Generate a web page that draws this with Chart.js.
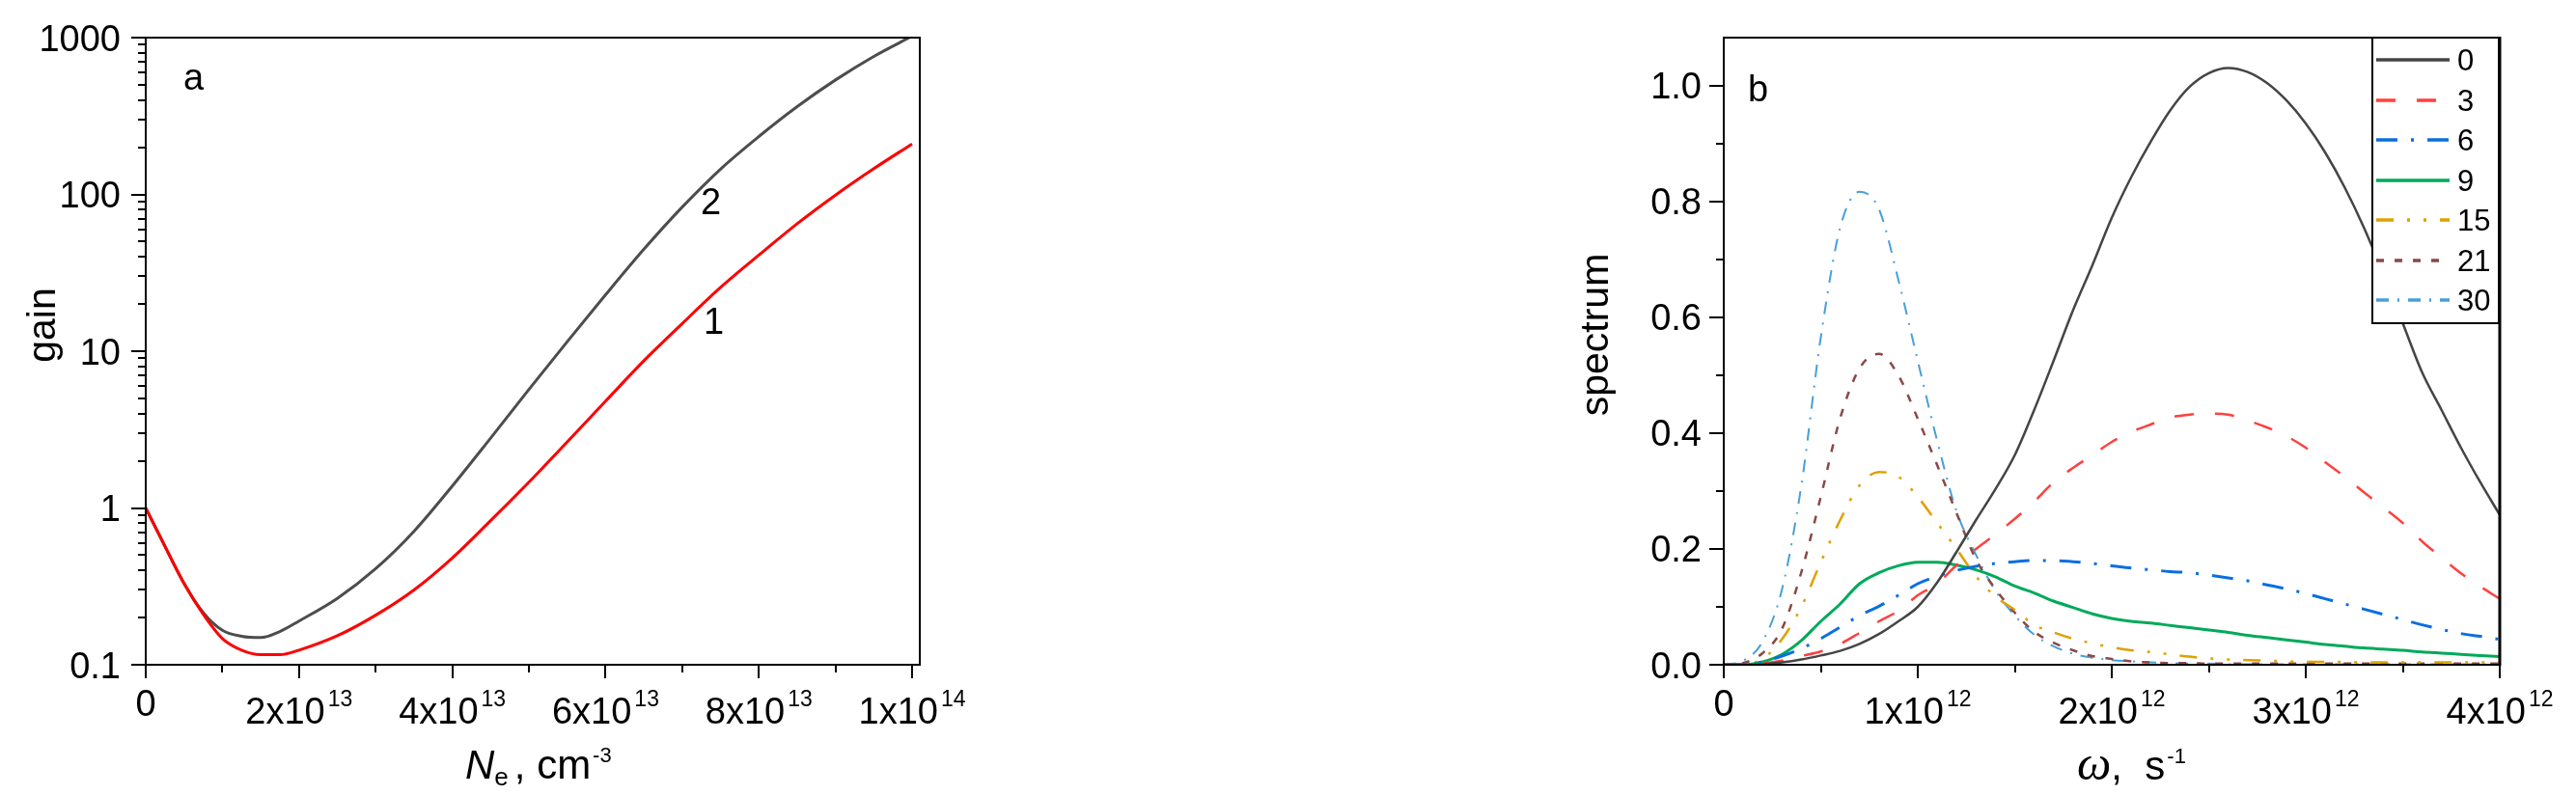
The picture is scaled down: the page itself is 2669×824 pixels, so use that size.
<!DOCTYPE html>
<html><head><meta charset="utf-8">
<script src="https://cdn.jsdelivr.net/npm/chart.js@4.4.1/dist/chart.umd.min.js"></script>
<style>
html,body{margin:0;padding:0;background:#fff;width:2669px;height:824px;overflow:hidden}
canvas{position:absolute;top:0}
#ca{left:0}
#cb{left:1560px}
</style></head><body>
<canvas id="ca" width="1200" height="824"></canvas>
<canvas id="cb" width="1109" height="824"></canvas>
<script>
// ---------- Panel a: gain vs Ne (Ne in units of 1e13 cm^-3) ----------
const neValues   = [0,0.25,0.5,0.75,1,1.25,1.5,1.75,2,2.5,3,3.5,4,4.5,5,5.5,6,6.5,7,7.5,8,8.5,9,9.5,10];
const gainCurve1 = [1.0,0.57,0.33,0.21,0.147,0.124,0.116,0.116,0.124,0.153,0.207,0.30,0.48,0.83,1.46,2.64,4.8,8.7,15,25.5,41,65,99,146,210];
const gainCurve2 = [1.0,0.57,0.33,0.215,0.166,0.152,0.149,0.163,0.19,0.265,0.41,0.71,1.38,2.79,5.7,11.5,22.9,44.7,83,145,234,363,537,759,1023];
const gainYTicks = [0.1,1,10,100,1000];
const gainYTickLabels = ['0.1','1','10','100','1000'];
const neXTicks = [0,2,4,6,8,10];
const neXTickLabels = [['0',''],['2x10','13'],['4x10','13'],['6x10','13'],['8x10','13'],['1x10','14']];

// ---------- Panel b: spectrum vs omega (omega in units of 1e12 s^-1) ----------
const omegaValues = [0,0.1,0.2,0.3,0.4,0.5,0.6,0.7,0.8,0.9,1.0,1.1,1.2,1.3,1.4,1.5,1.6,1.7,1.8,1.9,2.0,2.1,2.2,2.3,2.4,2.5,2.6,2.7,2.8,2.9,3.0,3.1,3.2,3.3,3.4,3.5,3.6,3.7,3.8,3.9,4.0];
const spec0  = [0,0,0.001,0.004,0.009,0.016,0.024,0.036,0.053,0.075,0.10,0.142,0.195,0.25,0.303,0.362,0.44,0.525,0.612,0.69,0.772,0.842,0.903,0.957,0.998,1.022,1.031,1.024,1.005,0.975,0.935,0.885,0.825,0.755,0.675,0.59,0.505,0.44,0.375,0.315,0.259];
const spec3  = [0,0,0.002,0.007,0.015,0.023,0.036,0.055,0.075,0.093,0.12,0.14,0.172,0.20,0.225,0.252,0.282,0.315,0.34,0.362,0.385,0.402,0.415,0.427,0.432,0.434,0.432,0.422,0.41,0.395,0.375,0.35,0.325,0.298,0.272,0.245,0.213,0.185,0.158,0.135,0.114];
const spec6  = [0,0,0.005,0.015,0.028,0.045,0.065,0.085,0.101,0.12,0.14,0.153,0.163,0.17,0.175,0.178,0.18,0.18,0.178,0.175,0.171,0.167,0.164,0.161,0.159,0.155,0.15,0.145,0.138,0.131,0.123,0.114,0.105,0.096,0.087,0.078,0.069,0.061,0.054,0.049,0.044];
const spec9  = [0,0,0.005,0.018,0.042,0.075,0.105,0.14,0.159,0.171,0.177,0.177,0.172,0.164,0.152,0.136,0.124,0.11,0.099,0.088,0.08,0.075,0.072,0.068,0.064,0.06,0.056,0.051,0.047,0.043,0.039,0.035,0.032,0.029,0.027,0.025,0.022,0.02,0.018,0.016,0.014];
const spec15 = [0,0.001,0.01,0.044,0.1,0.177,0.25,0.31,0.333,0.325,0.29,0.245,0.2,0.153,0.118,0.095,0.069,0.056,0.045,0.037,0.03,0.025,0.022,0.018,0.014,0.011,0.009,0.008,0.007,0.006,0.005,0.005,0.005,0.004,0.004,0.004,0.004,0.004,0.004,0.004,0.004];
const spec21 = [0,0.003,0.02,0.062,0.16,0.29,0.426,0.512,0.537,0.50,0.425,0.345,0.262,0.182,0.131,0.09,0.057,0.038,0.025,0.015,0.01,0.006,0.004,0.003,0.003,0.002,0.002,0.002,0.002,0.002,0.002,0.002,0.002,0.002,0.002,0.002,0.002,0.002,0.002,0.002,0.002];
const spec30 = [0,0.007,0.04,0.13,0.31,0.565,0.755,0.817,0.787,0.665,0.525,0.387,0.265,0.19,0.128,0.085,0.052,0.032,0.019,0.012,0.008,0.006,0.004,0.003,0.002,0.002,0.001,0.001,0.001,0.001,0.001,0.001,0.001,0.001,0.001,0.001,0.001,0.001,0.001,0.001,0.001];
const specNames = ['0','3','6','9','15','21','30'];
const specYTicks = [0,0.2,0.4,0.6,0.8,1.0];
const specYTickLabels = ['0.0','0.2','0.4','0.6','0.8','1.0'];
const omegaXTicks = [0,1,2,3,4];
const omegaXTickLabels = [['0',''],['1x10','12'],['2x10','12'],['3x10','12'],['4x10','12']];

// ---------- helpers ----------
const SANS = '"Liberation Sans", Arial, sans-serif';
const SERIF = '"Liberation Serif", "Times New Roman", serif';
const TICK_FONT = '38px ' + SANS;
const SUP_FONT = '23px ' + SANS;

function pts(xs, ys){ return xs.map((x,i)=>({x:x, y:ys[i]})); }

function drawSciLabel(ctx, base, exp, cx, plainBaseline, sciBaseline){
  ctx.fillStyle = '#000';
  ctx.textBaseline = 'alphabetic';
  ctx.textAlign = 'left';
  ctx.font = TICK_FONT;
  const wb = ctx.measureText(base).width;
  if(!exp){ ctx.fillText(base, cx - wb/2, plainBaseline); return; }
  ctx.font = SUP_FONT;
  const ws = ctx.measureText(exp).width;
  const gap = 3;
  const x0 = cx - (wb + gap + ws)/2;
  ctx.font = TICK_FONT; ctx.fillText(base, x0, sciBaseline);
  ctx.font = SUP_FONT;  ctx.fillText(exp, x0 + wb + gap, sciBaseline - 18);
}

function drawPieces(ctx, pieces, x, baseline){
  ctx.textBaseline = 'alphabetic'; ctx.textAlign = 'left'; ctx.fillStyle = '#000';
  let cx = x;
  pieces.forEach(p=>{ ctx.font = p.font; ctx.fillText(p.t, cx, baseline + (p.dy||0)); cx += ctx.measureText(p.t).width + (p.after||0); });
}

function drawAxes(chart, o){
  const {ctx, chartArea:a, scales:{x, y}} = chart;
  ctx.save();
  ctx.strokeStyle = '#000'; ctx.lineWidth = 2;
  ctx.beginPath();
  o.xMajor.forEach(v=>{ const p = Math.round(x.getPixelForValue(v)); ctx.moveTo(p, a.bottom); ctx.lineTo(p, a.bottom + 14); });
  o.xMinor.forEach(v=>{ const p = Math.round(x.getPixelForValue(v)); ctx.moveTo(p, a.bottom); ctx.lineTo(p, a.bottom + 8); });
  o.yMajor.forEach(v=>{ const p = Math.round(y.getPixelForValue(v)); ctx.moveTo(a.left, p); ctx.lineTo(a.left - 15, p); });
  o.yMinor.forEach(v=>{ const p = Math.round(y.getPixelForValue(v)); ctx.moveTo(a.left, p); ctx.lineTo(a.left - 8, p); });
  ctx.stroke();
  // frame
  ctx.strokeRect(Math.round(a.left), Math.round(a.top), Math.round(a.right - a.left), Math.round(a.bottom - a.top));
  // y tick labels
  ctx.fillStyle = '#000'; ctx.font = TICK_FONT; ctx.textAlign = 'right'; ctx.textBaseline = 'alphabetic';
  o.yMajor.forEach((v,i)=>{ ctx.fillText(o.yLabels[i], o.yLabelRight, y.getPixelForValue(v) + 13.5); });
  // x tick labels
  o.xMajor.forEach((v,i)=>{ drawSciLabel(ctx, o.xLabels[i][0], o.xLabels[i][1], x.getPixelForValue(v), 742, 750); });
  ctx.restore();
}

function rotText(ctx, t, cx, cy, font){
  ctx.save(); ctx.translate(cx, cy); ctx.rotate(-Math.PI/2);
  ctx.font = font; ctx.fillStyle = '#000'; ctx.textAlign = 'center'; ctx.textBaseline = 'middle';
  ctx.fillText(t, 0, 0); ctx.restore();
}

// ---------- panel a ----------
const logMinor = [];
[0.1,1,10,100].forEach(d=>{ for(let k=2;k<=9;k++) logMinor.push(d*k); });

const decorA = {
  id:'decorA',
  afterDraw(chart){
    const ctx = chart.ctx;
    drawAxes(chart, {xMajor:neXTicks, xMinor:[1,3,5,7,9], yMajor:gainYTicks, yMinor:logMinor,
                     yLabels:gainYTickLabels, xLabels:neXTickLabels, yLabelRight:125});
    ctx.save();
    rotText(ctx, 'gain', 46, 337, '41px ' + SANS);
    drawPieces(ctx, [
      {t:'N', font:'italic 42px ' + SANS},
      {t:'e', font:'26px ' + SANS, dy:7, after:6},
      {t:', cm', font:'42px ' + SANS, after:2},
      {t:'-3', font:'22px ' + SANS, dy:-17}
    ], 482, 807);
    ctx.font = '38px ' + SANS; ctx.fillStyle = '#000'; ctx.textAlign = 'left'; ctx.textBaseline = 'alphabetic';
    ctx.fillText('a', 190, 93);
    ctx.fillText('2', 726, 222);
    ctx.fillText('1', 729, 346);
    ctx.restore();
  }
};

new Chart(document.getElementById('ca'), {
  type:'line',
  data:{datasets:[
    {label:'1', data:pts(neValues, gainCurve1), borderColor:'#ff0000', borderWidth:3, pointRadius:0, cubicInterpolationMode:'monotone', fill:false},
    {label:'2', data:pts(neValues, gainCurve2), borderColor:'#4d4d4d', borderWidth:3, pointRadius:0, cubicInterpolationMode:'monotone', fill:false}
  ]},
  options:{
    responsive:false, animation:false, devicePixelRatio:1,
    layout:{padding:{left:0, right:247, top:39, bottom:0}},
    plugins:{legend:{display:false}, tooltip:{enabled:false}},
    scales:{
      x:{type:'linear', min:0, max:10.1, ticks:{display:false}, grid:{display:false}, border:{display:false}, afterFit:s=>{s.height=135;}},
      y:{type:'logarithmic', min:0.1, max:1000, ticks:{display:false}, grid:{display:false}, border:{display:false}, afterFit:s=>{s.width=151;}}
    }
  },
  plugins:[decorA]
});

// ---------- panel b ----------
const specSeries = [spec0, spec3, spec6, spec9, spec15, spec21, spec30];
const specColors = ['#454545','#ff4040','#0a6fe0','#00aa5a','#e0a000','#8a4848','#4a9fd6'];
const specWidths = [2.5, 2.5, 3, 3, 2.5, 2.5, 2];
const specDashes = [[], [20,22], [22,14,3,14], [], [18,14,3,14,3,14], [8,11], [13,9,2,9]];

const decorB = {
  id:'decorB',
  afterDraw(chart){
    const ctx = chart.ctx;
    // legend box (page 2458..2589, 39..335)
    ctx.save();
    ctx.fillStyle = '#fff';
    ctx.fillRect(898, 39, 131, 296);
    ctx.strokeStyle = '#000'; ctx.lineWidth = 2;
    ctx.strokeRect(898, 39, 131, 296);
    chart.data.datasets.forEach((ds,i)=>{
      const yy = Math.round(62 + i*41.5);
      ctx.strokeStyle = ds.borderColor; ctx.lineWidth = 3.5;
      ctx.setLineDash(ds.borderDash || []);
      ctx.beginPath(); ctx.moveTo(902, yy); ctx.lineTo(978, yy); ctx.stroke();
      ctx.setLineDash([]);
      ctx.fillStyle = '#000'; ctx.font = '31px ' + SANS; ctx.textAlign = 'left'; ctx.textBaseline = 'alphabetic';
      ctx.fillText(ds.label, 986, yy + 11);
    });
    ctx.restore();
    drawAxes(chart, {xMajor:omegaXTicks, xMinor:[0.5,1.5,2.5,3.5], yMajor:specYTicks, yMinor:[0.1,0.3,0.5,0.7,0.9],
                     yLabels:specYTickLabels, xLabels:omegaXTickLabels, yLabelRight:203});
    ctx.save();
    ctx.strokeStyle = '#000'; ctx.lineWidth = 3;
    const a = chart.chartArea;
    ctx.beginPath(); ctx.moveTo(Math.round(a.right), a.top - 1); ctx.lineTo(Math.round(a.right), a.bottom + 1); ctx.stroke();
    rotText(ctx, 'spectrum', 95, 347, '41px ' + SANS);
    drawPieces(ctx, [
      {t:'\u03c9', font:'italic 50px ' + SERIF},
      {t:',  s', font:'42px ' + SANS, after:2},
      {t:'-1', font:'22px ' + SANS, dy:-17}
    ], 592, 808);
    ctx.font = '38px ' + SANS; ctx.fillStyle = '#000'; ctx.textAlign = 'left'; ctx.textBaseline = 'alphabetic';
    ctx.fillText('b', 251, 105);
    ctx.restore();
  }
};

new Chart(document.getElementById('cb'), {
  type:'line',
  data:{datasets: specSeries.map((s,i)=>({
    label:specNames[i], data:pts(omegaValues, s), borderColor:specColors[i], borderWidth:specWidths[i],
    borderDash:specDashes[i], pointRadius:0, cubicInterpolationMode:'monotone', fill:false
  }))},
  options:{
    responsive:false, animation:false, devicePixelRatio:1,
    layout:{padding:{left:0, right:79, top:39, bottom:0}},
    plugins:{legend:{display:false}, tooltip:{enabled:false}},
    scales:{
      x:{type:'linear', min:0, max:4, ticks:{display:false}, grid:{display:false}, border:{display:false}, afterFit:s=>{s.height=135;}},
      y:{type:'linear', min:0, max:1.0833, ticks:{display:false}, grid:{display:false}, border:{display:false}, afterFit:s=>{s.width=226;}}
    }
  },
  plugins:[decorB]
});
</script>
</body></html>
